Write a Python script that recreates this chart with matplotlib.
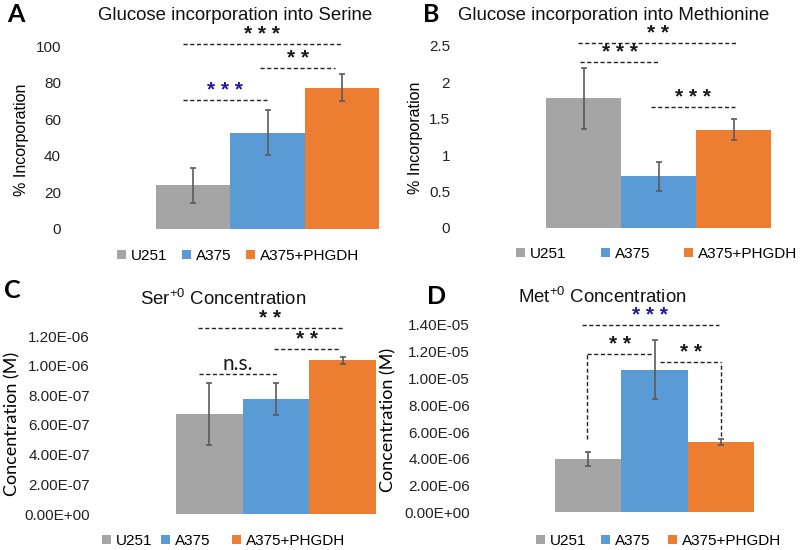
import matplotlib
matplotlib.use("Agg")
import matplotlib.pyplot as plt
from matplotlib.patches import Patch
from matplotlib.ticker import FuncFormatter

plt.rcParams["font.family"] = ["Liberation Sans", "DejaVu Sans"]
plt.rcParams["mathtext.fontset"] = "custom"
plt.rcParams["mathtext.rm"] = "Liberation Sans"
plt.rcParams["mathtext.default"] = "regular"

W, H = 800, 550

groups = ["U251", "A375", "A375+PHGDH"]
colors = ["#A5A5A5", "#5B9BD5", "#ED7D31"]
BLACK = "#1a1a1a"
BLUE = "#1c1c9c"

# panel A: glucose -> serine (% incorporation)
serine_inc = [24.0, 52.6, 77.2]
serine_inc_err = [9.6, 12.4, 7.3]
# panel B: glucose -> methionine (% incorporation)
met_inc = [1.78, 0.71, 1.35]
met_inc_err = [0.42, 0.20, 0.15]
# panel C: Ser+0 concentration (M)
ser_conc = [6.72e-7, 7.75e-7, 1.036e-6]
ser_conc_err = [2.08e-7, 1.07e-7, 2.5e-8]
# panel D: Met+0 concentration (M)
met_conc = [3.96e-6, 1.066e-5, 5.28e-6]
met_conc_err = [5.1e-7, 2.2e-6, 2.2e-7]

# significance brackets: x1, x2, y, label, colour, left leg end, right leg end
sig_a = [(-0.14, 1.99, 101, "* * *", BLACK, None, None),
         (0.90, 1.91, 88, "* *", BLACK, None, None),
         (-0.14, 0.99, 70.5, "* * *", BLUE, None, None)]
sig_b = [(-0.07, 2.05, 2.54, "* *", BLACK, None, None),
         (-0.05, 1.02, 2.275, "* * *", BLACK, None, None),
         (0.90, 2.02, 1.665, "* * *", BLACK, None, None)]
sig_c = [(-0.17, 2.00, 1.252e-6, "* *", BLACK, None, None),
         (0.97, 1.955, 1.11e-6, "* *", BLACK, None, None),
         (-0.16, 1.01, 0.946e-6, "n.s.", BLACK, None, None)]
sig_d = [(-0.10, 1.97, 1.40e-5, "* * *", BLUE, None, None),
         (-0.02, 0.98, 1.18e-5, "* *", BLACK, 5.48e-6, None),
         (1.09, 2.01, 1.126e-5, "* *", BLACK, None, 5.72e-6)]


def fx(x):
    return x / W


def fy(y):
    return 1 - y / H


def sci(v, pos):
    return "%.2E" % v


fig = plt.figure(figsize=(W / 100, H / 100), dpi=100)

# layout of each panel, in pixels of the 800x550 picture
panels = [
    dict(letter="A", title="Glucose incorporation into Serine", vals=serine_inc, errs=serine_inc_err,
         sigs=sig_a, bx=(156, 379), y0=229, yt=46, ymax=100, step=20, lab_r=61, fmt=None,
         ylabel="% Incorporation", ylab=(22, 140), tpos=(235, 15), lpos=(16, 15),
         leg_x=(117, 182, 246), leg_y=256),
    dict(letter="B", title="Glucose incorporation into Methionine", vals=met_inc, errs=met_inc_err,
         sigs=sig_b, bx=(546, 771), y0=227.7, yt=46, ymax=2.5, step=0.5, lab_r=450, fmt=None,
         ylabel="% Incorporation", ylab=(415, 138), tpos=(614, 15), lpos=(431, 15),
         leg_x=(516, 601, 684), leg_y=254),
    dict(letter="C", title="Ser$^{+0}$ Concentration", vals=ser_conc, errs=ser_conc_err,
         sigs=sig_c, bx=(176, 376), y0=514, yt=336, ymax=1.2e-6, step=2e-7, lab_r=90, fmt=sci,
         ylabel="Concentration (M)", ylab=(12, 424), tpos=(223, 299), lpos=(12, 290),
         leg_x=(102, 161, 232), leg_y=541),
    dict(letter="D", title="Met$^{+0}$ Concentration", vals=met_conc, errs=met_conc_err,
         sigs=sig_d, bx=(555, 754), y0=512.3, yt=325, ymax=1.4e-5, step=2e-6, lab_r=470, fmt=sci,
         ylabel="Concentration (M)", ylab=(388, 420), tpos=(602, 297), lpos=(437, 296),
         leg_x=(536, 601, 668), leg_y=541),
]

for p in panels:
    left, right = p["bx"]
    ax = fig.add_axes([fx(left), fy(p["y0"]), (right - left) / W, (p["y0"] - p["yt"]) / H])
    xs = range(len(groups))
    ax.bar(xs, p["vals"], width=1.0, color=colors, edgecolor="none")
    ax.errorbar(xs, p["vals"], yerr=p["errs"], fmt="none", ecolor="#5a5a5a",
                elinewidth=1.2, capsize=2.5, capthick=1.2)
    ax.set_xlim(-0.5, 2.5)
    ax.set_ylim(0, p["ymax"])
    n = int(round(p["ymax"] / p["step"]))
    ax.set_yticks([i * p["step"] for i in range(n + 1)])
    if p["fmt"]:
        ax.yaxis.set_major_formatter(FuncFormatter(p["fmt"]))
    else:
        ax.yaxis.set_major_formatter(FuncFormatter(lambda v, pos: "%g" % v))
    ax.tick_params(axis="y", length=0, pad=(left - p["lab_r"]) * 0.72, labelsize=11, colors="#222222")
    ax.set_xticks([])
    for s in ax.spines.values():
        s.set_visible(False)
    ax.patch.set_visible(False)

    for x1, x2, y, lab, col, legl, legr in p["sigs"]:
        ls = (0, (3, 1.8))
        ax.plot([x1, x2], [y, y], color="#222222", lw=1, ls=ls, clip_on=False)
        if legl is not None:
            ax.plot([x1, x1], [legl, y], color="#222222", lw=1, ls=ls, clip_on=False)
        if legr is not None:
            ax.plot([x2, x2], [legr, y], color="#222222", lw=1, ls=ls, clip_on=False)
        if lab == "n.s.":
            ax.text((x1 + x2) / 2, y, lab, ha="center", va="bottom", fontsize=15,
                    family=["Lato", "DejaVu Sans"], color=col, clip_on=False)
        else:
            ax.text((x1 + x2) / 2, y, lab, ha="center", va="bottom", fontsize=15,
                    color=col, fontweight="bold", clip_on=False)

    fig.text(fx(p["tpos"][0]), fy(p["tpos"][1]), p["title"], ha="center", va="center",
             fontsize=13.4, color="#111111")
    fig.text(fx(p["lpos"][0]), fy(p["lpos"][1]), p["letter"], ha="center", va="center",
             fontsize=18, fontweight="bold", family=["Lato", "DejaVu Sans"])
    if p["letter"] in "AB":
        fig.text(fx(p["ylab"][0]), fy(p["ylab"][1]), p["ylabel"], rotation=90,
                 ha="center", va="center", fontsize=11.5)
    else:
        fig.text(fx(p["ylab"][0]), fy(p["ylab"][1]), p["ylabel"], rotation=90,
                 ha="center", va="center", fontsize=13, family=["Lato", "DejaVu Sans"])

    # one legend per entry so each sits where the reference puts it
    for name, c, lx in zip(groups, colors, p["leg_x"]):
        fig.legend([Patch(facecolor=c, edgecolor="none")], [name], loc="center left",
                   bbox_to_anchor=(fx(lx), fy(p["leg_y"])), frameon=False, fontsize=11,
                   handlelength=0.6, handleheight=0.6, handletextpad=0.3,
                   borderaxespad=0, borderpad=0)

fig.savefig("out.png", dpi=100)
